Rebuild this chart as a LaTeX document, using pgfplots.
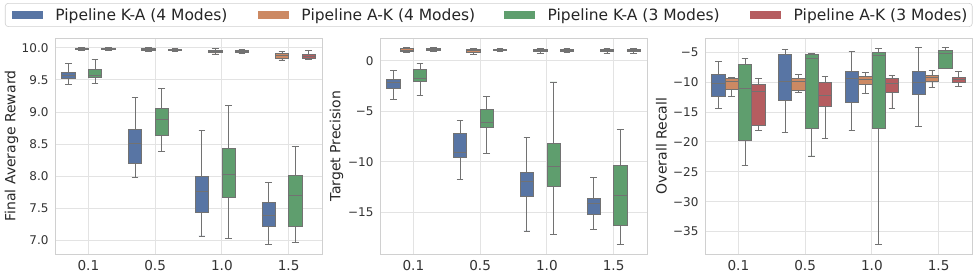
\documentclass[border=0pt]{standalone}
\usepackage{fontspec}
\setmainfont{DejaVu Sans}
\usepackage{pgfplots}
\pgfplotsset{compat=1.18}
\usepgfplotslibrary{statistics}
\definecolor{cKAf}{HTML}{5875A4}
\definecolor{cAKf}{HTML}{CC8963}
\definecolor{cKAt}{HTML}{5F9E6E}
\definecolor{cAKt}{HTML}{B55D60}
\definecolor{linec}{HTML}{727272}
\definecolor{gridc}{HTML}{E3E3E3}
\definecolor{framec}{HTML}{D0D0D0}
% #1 colour, #2 position, #3 lw, #4 q1, #5 med, #6 q3, #7 uw
\newcommand{\bx}[7]{\addplot[boxplot prepared={draw direction=y, draw position=#2, lower whisker=#3, lower quartile=#4, median=#5, upper quartile=#6, upper whisker=#7, box extend=0.2, whisker extend=0.1}, fill=#1, draw=linec, line width=0.75pt] coordinates {};}
\pgfplotsset{
  mystyle/.style={
    scale only axis, width=267pt, height=216pt, anchor=south west,
    xmin=-0.5, xmax=3.5,
    xtick={0,1,2,3}, xticklabels={0.1,0.5,1.0,1.5},
    major tick length=0pt,
    grid=major,
    major grid style={draw=gridc, line width=0.8pt},
    axis line style={draw=framec, line width=0.8pt},
    yticklabel style={font=\fontsize{12}{14}\selectfont, text=black!80, xshift=-3pt},
    xticklabel style={font=\fontsize{13.6}{16}\selectfont, text=black!80, yshift=-3pt},
    label style={font=\fontsize{14}{16}\selectfont, text=black!85},
    ylabel style={at={(axis description cs:-0.163,0.5)}, anchor=center},
  }
}
\begin{document}
\begin{tikzpicture}
% ---------- Panel 1 ----------
\begin{axis}[mystyle, at={(55pt,25pt)},
  ymin=6.785, ymax=10.153,
  ytick={7,7.5,8,8.5,9,9.5,10},
  yticklabels={7.0,7.5,8.0,8.5,9.0,9.5,10.0},
  ylabel={Final Average Reward},
  legend style={at={(axis description cs:-0.1873,1.162)}, anchor=north west,
    draw=framec, rounded corners=3pt, line width=0.6pt,
    font=\fontsize{15.5}{18}\selectfont, text=black!85,
    inner xsep=6.5pt, inner ysep=4pt,
    nodes={inner xsep=0pt, inner ysep=1pt},
    /tikz/every odd column/.append style={column sep=13pt},
    /tikz/every even column/.append style={column sep=30.5pt}},
  legend columns=4,
]
\addlegendimage{legend image code/.code={\fill[cKAf, sharp corners] (0pt,-3.4pt) rectangle (30pt,3.4pt);}}
\addlegendentry{\makebox[172pt][l]{Pipeline K-A (4 Modes)}}
\addlegendimage{legend image code/.code={\fill[cAKf, sharp corners] (0pt,-3.4pt) rectangle (30pt,3.4pt);}}
\addlegendentry{\makebox[172pt][l]{Pipeline A-K (4 Modes)}}
\addlegendimage{legend image code/.code={\fill[cKAt, sharp corners] (0pt,-3.4pt) rectangle (30pt,3.4pt);}}
\addlegendentry{\makebox[172pt][l]{Pipeline K-A (3 Modes)}}
\addlegendimage{legend image code/.code={\fill[cAKt, sharp corners] (0pt,-3.4pt) rectangle (30pt,3.4pt);}}
\addlegendentry{\makebox[172pt][l]{Pipeline A-K (3 Modes)}}
% 0.1
\bx{cKAf}{-0.3}{9.43}{9.517}{9.574}{9.62}{9.761}
\bx{cAKf}{-0.1}{9.96}{9.975}{9.985}{9.99}{10.0}
\bx{cKAt}{0.1}{9.44}{9.543}{9.574}{9.668}{9.82}
\bx{cAKt}{0.3}{9.96}{9.975}{9.985}{9.99}{10.0}
% 0.5
\bx{cKAf}{0.7}{7.981}{8.204}{8.516}{8.728}{9.221}
\bx{cAKf}{0.9}{9.94}{9.96}{9.97}{9.985}{10.0}
\bx{cKAt}{1.1}{8.391}{8.635}{8.889}{9.055}{9.362}
\bx{cAKt}{1.3}{9.945}{9.96}{9.97}{9.98}{9.995}
% 1.0
\bx{cKAf}{1.7}{7.067}{7.441}{7.758}{7.991}{8.713}
\bx{cAKf}{1.9}{9.905}{9.93}{9.945}{9.96}{9.985}
\bx{cKAt}{2.1}{7.026}{7.664}{8.022}{8.433}{9.107}
\bx{cAKt}{2.3}{9.91}{9.93}{9.94}{9.955}{9.98}
% 1.5
\bx{cKAf}{2.7}{6.938}{7.223}{7.389}{7.597}{7.898}
\bx{cAKf}{2.9}{9.81}{9.84}{9.875}{9.912}{9.943}
\bx{cKAt}{3.1}{6.964}{7.223}{7.70}{8.017}{8.464}
\bx{cAKt}{3.3}{9.813}{9.834}{9.87}{9.90}{9.953}
\end{axis}
% ---------- Panel 2 ----------
\begin{axis}[mystyle, at={(380pt,25pt)},
  ymin=-19.12, ymax=2.25,
  ytick={-15,-10,-5,0},
  yticklabels={−15,−10,−5,0},
  ylabel={Target Precision},
]
% 0.1
\bx{cKAf}{-0.3}{-3.87}{-2.69}{-2.17}{-1.87}{-0.92}
\bx{cAKf}{-0.1}{0.79}{0.95}{1.05}{1.18}{1.28}
\bx{cKAt}{0.1}{-3.45}{-2.03}{-1.74}{-0.85}{-0.26}
\bx{cAKt}{0.3}{0.89}{1.05}{1.15}{1.21}{1.28}
% 0.5
\bx{cKAf}{0.7}{-11.72}{-9.58}{-9.03}{-7.22}{-5.91}
\bx{cAKf}{0.9}{0.62}{0.82}{0.98}{1.12}{1.18}
\bx{cKAt}{1.1}{-9.16}{-6.56}{-6.10}{-4.79}{-3.54}
\bx{cAKt}{1.3}{0.95}{0.98}{1.08}{1.15}{1.18}
% 1.0
\bx{cKAf}{1.7}{-16.84}{-13.39}{-11.98}{-11.03}{-7.58}
\bx{cAKf}{1.9}{0.75}{0.89}{1.02}{1.15}{1.21}
\bx{cKAt}{2.1}{-17.2}{-12.44}{-10.47}{-8.14}{-2.10}
\bx{cAKt}{2.3}{0.82}{0.92}{1.02}{1.15}{1.18}
% 1.5
\bx{cKAf}{2.7}{-16.70}{-15.23}{-14.08}{-13.59}{-11.55}
\bx{cAKf}{2.9}{0.69}{0.89}{0.98}{1.12}{1.18}
\bx{cKAt}{3.1}{-18.15}{-16.25}{-13.29}{-10.34}{-6.79}
\bx{cAKt}{3.3}{0.75}{0.89}{0.98}{1.12}{1.18}
\end{axis}
% ---------- Panel 3 ----------
\begin{axis}[mystyle, at={(705pt,25pt)},
  ymin=-38.74, ymax=-2.64,
  ytick={-35,-30,-25,-20,-15,-10,-5},
  yticklabels={−35,−30,−25,−20,−15,−10,−5},
  ylabel={Overall Recall},
]
% 0.1
\bx{cKAf}{-0.3}{-14.46}{-12.46}{-10.23}{-8.78}{-6.50}
\bx{cAKf}{-0.1}{-12.46}{-11.18}{-9.84}{-9.45}{-9.28}
\bx{cKAt}{0.1}{-23.98}{-19.69}{-11.12}{-7.11}{-6.11}
\bx{cAKt}{0.3}{-18.13}{-17.30}{-11.62}{-10.40}{-9.40}
% 0.5
\bx{cKAf}{0.7}{-18.41}{-13.07}{-9.90}{-5.39}{-4.61}
\bx{cAKf}{0.9}{-11.73}{-11.46}{-9.90}{-9.45}{-8.67}
\bx{cKAt}{1.1}{-22.36}{-17.69}{-6.0}{-5.39}{-5.22}
\bx{cAKt}{1.3}{-19.41}{-14.07}{-12.29}{-10.12}{-9.01}
% 1.0
\bx{cKAf}{1.7}{-18.08}{-13.35}{-9.34}{-8.28}{-4.94}
\bx{cAKf}{1.9}{-11.96}{-10.40}{-9.56}{-9.06}{-8.34}
\bx{cKAt}{2.1}{-37.1}{-17.80}{-5.56}{-5.11}{-4.33}
\bx{cAKt}{2.3}{-14.46}{-11.79}{-10.18}{-9.40}{-8.84}
% 1.5
\bx{cKAf}{2.7}{-17.41}{-12.01}{-10.06}{-8.28}{-4.28}
\bx{cAKf}{2.9}{-10.95}{-9.84}{-9.28}{-8.95}{-8.12}
\bx{cKAt}{3.1}{-7.67}{-7.67}{-5.28}{-4.67}{-4.28}
\bx{cAKt}{3.3}{-10.68}{-10.12}{-9.51}{-9.17}{-8.28}
\end{axis}
\pgfresetboundingbox
\path[use as bounding box] (0pt,0pt) rectangle (977pt,279pt);
\end{tikzpicture}
\end{document}
